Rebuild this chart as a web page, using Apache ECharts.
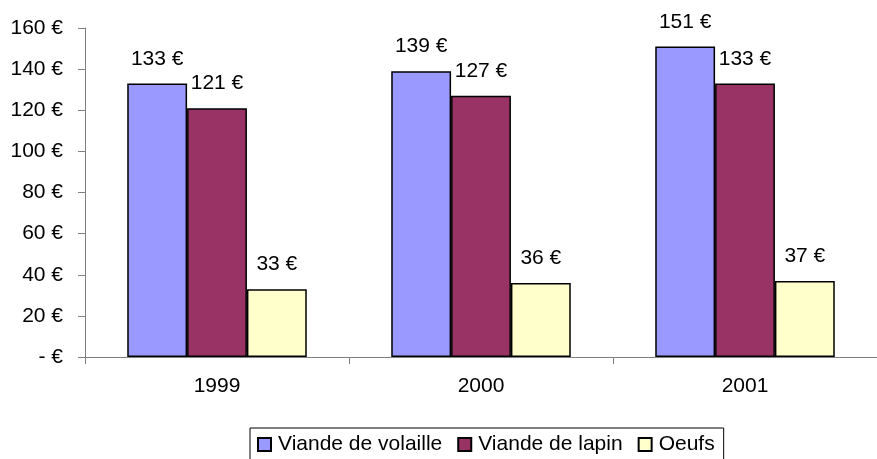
<!DOCTYPE html>
<html>
<head>
<meta charset="utf-8">
<script src="https://cdn.jsdelivr.net/npm/echarts@6/dist/echarts.min.js"></script>
<style>
  html, body { margin: 0; padding: 0; background: #ffffff; }
  #chart { width: 877px; height: 459px; }
</style>
</head>
<body>
<div id="chart"></div>
<script>
// Prix moyens par année
const years = ['1999', '2000', '2001'];
const volaille = [133, 139, 151];
const lapin = [121, 127, 133];
const oeufs = [33, 36, 37];
const seriesNames = ['Viande de volaille', 'Viande de lapin', 'Oeufs'];
const seriesColors = ['#9999FF', '#993366', '#FFFFCC'];
const yTicks = { min: 0, max: 160, interval: 20 };

const FONT = '"Liberation Sans", Arial, sans-serif';
const FONT_SIZE = 21;

function euro(v) {
  return v === 0 ? '- €' : v + ' €';
}

function barSeries(name, data, color) {
  return {
    name: name,
    type: 'bar',
    data: data,
    barGap: '0%',
    barCategoryGap: '32%',
    itemStyle: { color: color, borderColor: '#000000', borderWidth: 1.5 },
    label: {
      show: true,
      position: 'top',
      distance: 14,
      formatter: function (p) { return euro(p.value); },
      color: '#000000',
      fontFamily: FONT,
      fontSize: FONT_SIZE
    },
    emphasis: { disabled: true }
  };
}

const chart = echarts.init(document.getElementById('chart'), null, { renderer: 'canvas' });
chart.setOption({
  animation: false,
  backgroundColor: '#ffffff',
  grid: { left: 85, top: 28, right: -8, bottom: 102, containLabel: false },
  xAxis: {
    type: 'category',
    data: years,
    axisLine: { lineStyle: { color: '#808080', width: 1 } },
    axisTick: { show: true, alignWithLabel: false, length: 7, inside: false, lineStyle: { color: '#808080' } },
    axisLabel: { color: '#000000', fontFamily: FONT, fontSize: FONT_SIZE, margin: 19 }
  },
  yAxis: {
    type: 'value',
    min: yTicks.min,
    max: yTicks.max,
    interval: yTicks.interval,
    axisLine: { show: true, lineStyle: { color: '#808080', width: 1 } },
    axisTick: { show: true, length: 7, lineStyle: { color: '#808080' } },
    splitLine: { show: false },
    axisLabel: {
      color: '#000000', fontFamily: FONT, fontSize: FONT_SIZE, margin: 22,
      formatter: euro
    }
  },
  legend: {
    left: 250,
    top: 428,
    orient: 'horizontal',
    icon: 'rect',
    itemWidth: 13,
    itemHeight: 13,
    itemGap: 15,
    padding: [6, 9, 10, 7],
    borderColor: '#000000',
    borderWidth: 1,
    textStyle: { color: '#000000', fontFamily: FONT, fontSize: FONT_SIZE, padding: [0, 0, 0, 2] },
    data: seriesNames
  },
  series: [
    barSeries(seriesNames[0], volaille, seriesColors[0]),
    barSeries(seriesNames[1], lapin, seriesColors[1]),
    barSeries(seriesNames[2], oeufs, seriesColors[2])
  ]
});
</script>
</body>
</html>
